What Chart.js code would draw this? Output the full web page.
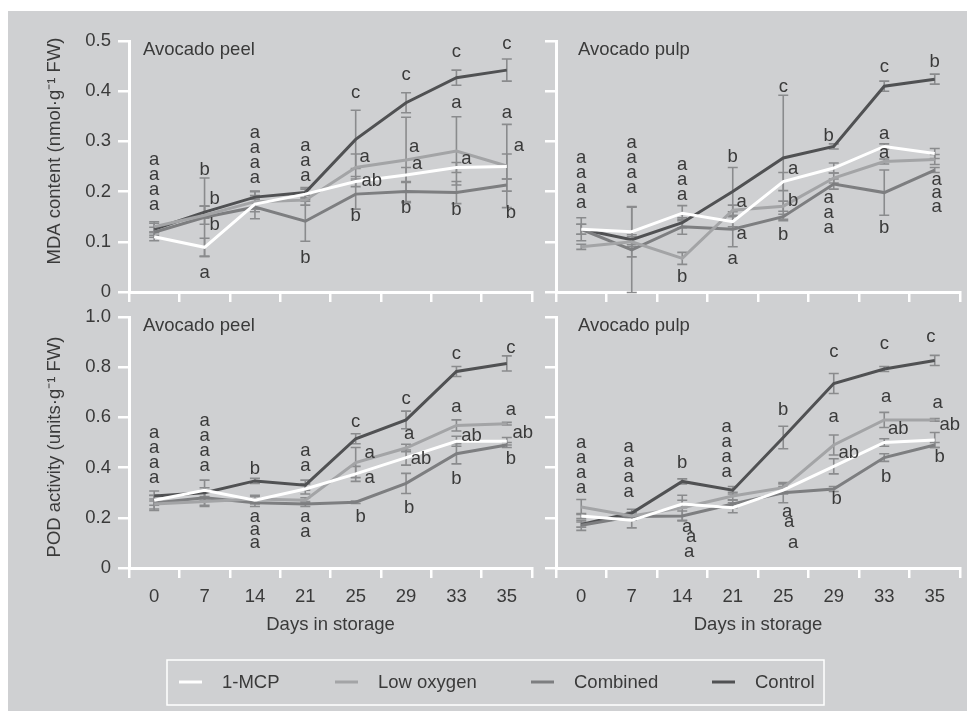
<!DOCTYPE html>
<html>
<head>
<meta charset="utf-8">
<script src="https://cdn.jsdelivr.net/npm/chart.js@4"></script>
<style>
  body { margin: 0; background: #ffffff; }
  #panel { position: absolute; left: 8px; top: 11px; width: 959px; height: 700px; background: #cfd0d2; }
  #panel canvas { position: absolute; left: 0; top: 0; }
</style>
</head>
<body>
<div id="panel">
  <canvas id="mdaPeel" width="959" height="700"></canvas>
  <canvas id="mdaPulp" width="959" height="700"></canvas>
  <canvas id="podPeel" width="959" height="700"></canvas>
  <canvas id="podPulp" width="959" height="700"></canvas>
</div>
<script>
// categories
var days = ['0', '7', '14', '21', '25', '29', '33', '35'];
var seriesNames = ['1-MCP', 'Low oxygen', 'Combined', 'Control'];

// MDA content, avocado peel
var mdaPeelMcp      = [0.110, 0.089, 0.175, 0.195, 0.220, 0.233, 0.248, 0.250];
var mdaPeelLowO2    = [0.130, 0.153, 0.180, 0.183, 0.248, 0.263, 0.281, 0.251];
var mdaPeelCombined = [0.119, 0.149, 0.169, 0.141, 0.195, 0.200, 0.198, 0.213];
var mdaPeelControl  = [0.125, 0.159, 0.189, 0.198, 0.304, 0.377, 0.427, 0.442];
var mdaPeelMcpErr      = [0.008, 0.018, 0.010, 0.010, 0.010, 0.015, 0.010, 0.025];
var mdaPeelLowO2Err    = [0.010, 0.018, 0.020, 0.010, 0.027, 0.085, 0.068, 0.083];
var mdaPeelCombinedErr = [0.010, 0.078, 0.023, 0.040, 0.030, 0.020, 0.022, 0.012];
var mdaPeelControlErr  = [0.012, 0.012, 0.012, 0.010, 0.058, 0.020, 0.015, 0.022];

// MDA content, avocado pulp
var mdaPulpMcp      = [0.125, 0.120, 0.157, 0.140, 0.220, 0.247, 0.290, 0.276];
var mdaPulpLowO2    = [0.090, 0.100, 0.067, 0.163, 0.171, 0.227, 0.260, 0.264];
var mdaPulpCombined = [0.125, 0.084, 0.130, 0.125, 0.150, 0.215, 0.198, 0.243];
var mdaPulpControl  = [0.125, 0.104, 0.138, 0.200, 0.267, 0.290, 0.410, 0.424];
var mdaPulpMcpErr      = [0.010, 0.050, 0.015, 0.010, 0.018, 0.010, 0.005, 0.010];
var mdaPulpLowO2Err    = [0.005, 0.010, 0.012, 0.010, 0.010, 0.010, 0.005, 0.010];
var mdaPulpCombinedErr = [0.023, 0.085, 0.015, 0.035, 0.005, 0.010, 0.045, 0.005];
var mdaPulpControlErr  = [0.010, 0.010, 0.010, 0.048, 0.125, 0.005, 0.010, 0.010];

// POD activity, avocado peel
var podPeelMcp      = [0.270, 0.310, 0.270, 0.315, 0.375, 0.440, 0.505, 0.505];
var podPeelLowO2    = [0.255, 0.265, 0.275, 0.270, 0.420, 0.478, 0.568, 0.575];
var podPeelCombined = [0.259, 0.280, 0.260, 0.255, 0.262, 0.337, 0.455, 0.490];
var podPeelControl  = [0.287, 0.300, 0.347, 0.330, 0.515, 0.590, 0.783, 0.815];
var podPeelMcpErr      = [0.020, 0.040, 0.015, 0.020, 0.030, 0.030, 0.020, 0.015];
var podPeelLowO2Err    = [0.020, 0.020, 0.015, 0.010, 0.060, 0.015, 0.022, 0.005];
var podPeelCombinedErr = [0.030, 0.030, 0.015, 0.010, 0.005, 0.040, 0.040, 0.010];
var podPeelControlErr  = [0.020, 0.020, 0.010, 0.020, 0.020, 0.035, 0.020, 0.030];

// POD activity, avocado pulp
var podPulpMcp      = [0.207, 0.190, 0.255, 0.240, 0.310, 0.405, 0.500, 0.510];
var podPulpLowO2    = [0.243, 0.207, 0.240, 0.287, 0.320, 0.490, 0.590, 0.590];
var podPulpCombined = [0.170, 0.205, 0.207, 0.255, 0.300, 0.315, 0.440, 0.490];
var podPulpControl  = [0.173, 0.219, 0.345, 0.310, 0.520, 0.735, 0.793, 0.827];
var podPulpMcpErr      = [0.010, 0.030, 0.015, 0.020, 0.015, 0.030, 0.015, 0.030];
var podPulpLowO2Err    = [0.030, 0.015, 0.050, 0.015, 0.015, 0.040, 0.030, 0.005];
var podPulpCombinedErr = [0.020, 0.015, 0.020, 0.015, 0.040, 0.010, 0.015, 0.010];
var podPulpControlErr  = [0.010, 0.015, 0.010, 0.015, 0.045, 0.040, 0.010, 0.020];

// significance letters: [day index, value, letter, x shift]
var mdaPeelLetters = [
  [0, 0.263, 'a', 0], [0, 0.233, 'a', 0], [0, 0.203, 'a', 0], [0, 0.173, 'a', 0],
  [1, 0.243, 'b', 0], [1, 0.185, 'b', 10], [1, 0.133, 'b', 10], [1, 0.038, 'a', 0],
  [2, 0.317, 'a', 0], [2, 0.287, 'a', 0], [2, 0.257, 'a', 0], [2, 0.227, 'a', 0],
  [3, 0.291, 'a', 0], [3, 0.261, 'a', 0], [3, 0.231, 'a', 0], [3, 0.068, 'b', 0],
  [4, 0.396, 'c', 0], [4, 0.269, 'a', 9], [4, 0.221, 'ab', 16], [4, 0.151, 'b', 0],
  [5, 0.432, 'c', 0], [5, 0.289, 'a', 8], [5, 0.255, 'a', 11], [5, 0.167, 'b', 0],
  [6, 0.478, 'c', 0], [6, 0.376, 'a', 0], [6, 0.264, 'a', 10], [6, 0.163, 'b', 0],
  [7, 0.494, 'c', 0], [7, 0.356, 'a', 0], [7, 0.291, 'a', 12], [7, 0.157, 'b', 4]
];
var mdaPulpLetters = [
  [0, 0.267, 'a', 0], [0, 0.237, 'a', 0], [0, 0.207, 'a', 0], [0, 0.177, 'a', 0],
  [1, 0.297, 'a', 0], [1, 0.267, 'a', 0], [1, 0.237, 'a', 0], [1, 0.207, 'a', 0],
  [2, 0.253, 'a', 0], [2, 0.223, 'a', 0], [2, 0.193, 'a', 0], [2, 0.030, 'b', 0],
  [3, 0.269, 'b', 0], [3, 0.179, 'a', 9], [3, 0.116, 'a', 9], [3, 0.066, 'a', 0],
  [4, 0.408, 'c', 0], [4, 0.245, 'a', 10], [4, 0.181, 'b', 10], [4, 0.114, 'b', 0],
  [5, 0.311, 'b', -5], [5, 0.187, 'a', -5], [5, 0.157, 'a', -5], [5, 0.127, 'a', -5],
  [6, 0.448, 'c', 0], [6, 0.315, 'a', 0], [6, 0.277, 'a', 0], [6, 0.127, 'b', 0],
  [7, 0.458, 'b', 0], [7, 0.223, 'a', 2], [7, 0.197, 'a', 2], [7, 0.169, 'a', 2]
];
var podPeelLetters = [
  [0, 0.538, 'a', 0], [0, 0.478, 'a', 0], [0, 0.418, 'a', 0], [0, 0.359, 'a', 0],
  [1, 0.586, 'a', 0], [1, 0.526, 'a', 0], [1, 0.466, 'a', 0], [1, 0.406, 'a', 0],
  [2, 0.394, 'b', 0], [2, 0.204, 'a', 0], [2, 0.151, 'a', 0], [2, 0.098, 'a', 0],
  [3, 0.467, 'a', 0], [3, 0.408, 'a', 0], [3, 0.204, 'a', 0], [3, 0.145, 'a', 0],
  [4, 0.583, 'c', 0], [4, 0.459, 'a', 14], [4, 0.357, 'a', 14], [4, 0.204, 'b', 5],
  [5, 0.672, 'c', 0], [5, 0.533, 'a', 3], [5, 0.433, 'ab', 15], [5, 0.238, 'b', 3],
  [6, 0.851, 'c', 0], [6, 0.640, 'a', 0], [6, 0.526, 'ab', 15], [6, 0.355, 'b', 0],
  [7, 0.875, 'c', 4], [7, 0.629, 'a', 4], [7, 0.537, 'ab', 16], [7, 0.433, 'b', 4]
];
var podPulpLetters = [
  [0, 0.499, 'a', 0], [0, 0.439, 'a', 0], [0, 0.380, 'a', 0], [0, 0.320, 'a', 0],
  [1, 0.483, 'a', -3], [1, 0.423, 'a', -3], [1, 0.364, 'a', -3], [1, 0.304, 'a', -3],
  [2, 0.420, 'b', 0], [2, 0.165, 'a', 5], [2, 0.122, 'a', 9], [2, 0.062, 'a', 7],
  [3, 0.563, 'a', -6], [3, 0.503, 'a', -6], [3, 0.444, 'a', -6], [3, 0.384, 'a', -6],
  [4, 0.629, 'b', 0], [4, 0.224, 'a', 4], [4, 0.185, 'a', 6], [4, 0.101, 'a', 10],
  [5, 0.862, 'c', 0], [5, 0.600, 'a', 0], [5, 0.459, 'ab', 15], [5, 0.274, 'b', 3],
  [6, 0.891, 'c', 0], [6, 0.683, 'a', 2], [6, 0.553, 'ab', 14], [6, 0.364, 'b', 2],
  [7, 0.919, 'c', -4], [7, 0.656, 'a', 3], [7, 0.570, 'ab', 15], [7, 0.444, 'b', 5]
];

var lineColors = ['#ffffff', '#a3a4a6', '#7d7e80', '#505153'];
var textColor = '#3a3a3a';
var fontFamily = '"Liberation Sans", Arial, sans-serif';
var fontSize = 18.5;

Chart.defaults.font.family = fontFamily;
Chart.defaults.font.size = fontSize;
Chart.defaults.color = textColor;

function makeDatasets(values, errors) {
    var sets = [];
    for (var i = 0; i < values.length; i++) {
        sets.push({
            label: seriesNames[i],
            data: values[i],
            errors: errors[i],
            borderColor: lineColors[i],
            backgroundColor: lineColors[i],
            borderWidth: 3,
            pointRadius: 0,
            tension: 0
        });
    }
    return sets;
}

// error bars, drawn under the lines
var errorBarPlugin = {
    id: 'errorBars',
    beforeDatasetsDraw: function (chart) {
        var ctx = chart.ctx;
        var xs = chart.scales.x, ys = chart.scales.y;
        ctx.save();
        ctx.strokeStyle = '#8a8b8d';
        ctx.lineWidth = 1.6;
        chart.data.datasets.forEach(function (ds) {
            ds.data.forEach(function (v, j) {
                var e = ds.errors[j];
                var x = xs.getPixelForValue(j);
                var y1 = ys.getPixelForValue(v + e);
                var y2 = ys.getPixelForValue(v - e);
                ctx.beginPath();
                ctx.moveTo(x, y1); ctx.lineTo(x, y2);
                ctx.moveTo(x - 5, y1); ctx.lineTo(x + 5, y1);
                ctx.moveTo(x - 5, y2); ctx.lineTo(x + 5, y2);
                ctx.stroke();
            });
        });
        ctx.restore();
    }
};

// letters, panel name, y title, legend
var textPlugin = {
    id: 'panelText',
    afterDraw: function (chart) {
        var opts = chart.options.plugins.panelText;
        var ctx = chart.ctx;
        var xs = chart.scales.x, ys = chart.scales.y;
        var area = chart.chartArea;
        ctx.save();
        ctx.fillStyle = textColor;
        ctx.font = fontSize + 'px ' + fontFamily;
        ctx.textAlign = 'center';
        ctx.textBaseline = 'alphabetic';
        opts.letters.forEach(function (l) {
            ctx.fillText(l[2], xs.getPixelForValue(l[0]) + l[3], ys.getPixelForValue(l[1]) + 5);
        });

        ctx.textAlign = 'left';
        ctx.fillText(opts.name, area.left + opts.nameShift, area.top + 14);

        if (opts.yTitle) {
            ctx.save();
            ctx.translate(47, opts.yTitleCenter);
            ctx.rotate(-Math.PI / 2);
            ctx.textAlign = 'center';
            ctx.textBaseline = 'middle';
            ctx.fillText(opts.yTitle, 0, 0);
            ctx.restore();
        }

        if (opts.legend) {
            ctx.strokeStyle = '#ffffff';
            ctx.lineWidth = 1.5;
            ctx.strokeRect(159, 649, 657, 45);
            var lineX = [171, 327, 523, 704];
            ctx.textBaseline = 'middle';
            ctx.textAlign = 'left';
            chart.data.datasets.forEach(function (ds, i) {
                ctx.strokeStyle = ds.borderColor;
                ctx.lineWidth = 3;
                ctx.beginPath();
                ctx.moveTo(lineX[i], 671);
                ctx.lineTo(lineX[i] + 23, 671);
                ctx.stroke();
                ctx.fillText(ds.label, lineX[i] + 43, 672);
            });
        }
        ctx.restore();
    }
};

function makeChart(id, values, errors, p) {
    var ctx = document.getElementById(id).getContext('2d');
    return new Chart(ctx, {
        type: 'line',
        data: { labels: days, datasets: makeDatasets(values, errors) },
        options: {
            responsive: false,
            animation: false,
            events: [],
            layout: { padding: p.padding },
            plugins: {
                legend: { display: false },
                tooltip: { enabled: false },
                panelText: p.text
            },
            scales: {
                x: {
                    type: 'category',
                    offset: true,
                    border: { color: '#ffffff', width: 3 },
                    grid: { offset: true, drawOnChartArea: false, drawTicks: true, tickLength: 10, color: '#ffffff', lineWidth: 2.5 },
                    ticks: {
                        padding: 8,
                        maxRotation: 0,
                        autoSkip: false,
                        callback: function (v, i) { return p.showX ? days[i] : ''; }
                    },
                    title: { display: p.showX, text: 'Days in storage', padding: { top: 2, bottom: 2 } },
                    afterFit: function (s) { s.height = p.showX ? 70 : 40; }
                },
                y: {
                    min: 0,
                    max: p.yMax,
                    border: { color: '#ffffff', width: 3 },
                    grid: { drawOnChartArea: false, drawTicks: true, tickLength: 11, color: '#ffffff', lineWidth: 2.5 },
                    ticks: {
                        stepSize: p.yStep,
                        maxTicksLimit: 20,
                        padding: 7,
                        callback: function (v) {
                            if (!p.showY) return '';
                            var n = v / p.yLabelStep;
                            if (Math.abs(n - Math.round(n)) > 1e-6) return '';
                            return Math.abs(v) < 1e-9 ? '0' : v.toFixed(1);
                        }
                    },
                    afterFit: function (s) { s.width = 60; }
                }
            }
        },
        plugins: [errorBarPlugin, textPlugin]
    });
}

makeChart('mdaPeel',
    [mdaPeelMcp, mdaPeelLowO2, mdaPeelCombined, mdaPeelControl],
    [mdaPeelMcpErr, mdaPeelLowO2Err, mdaPeelCombinedErr, mdaPeelControlErr],
    { padding: { left: 61, right: 435, top: 30, bottom: 379 }, showX: false, showY: true, yMax: 0.5, yStep: 0.05, yLabelStep: 0.1,
      text: { letters: mdaPeelLetters, name: 'Avocado peel', nameShift: 14, yTitle: 'MDA content (nmol·g⁻¹ FW)', yTitleCenter: 140 } });

makeChart('mdaPulp',
    [mdaPulpMcp, mdaPulpLowO2, mdaPulpCombined, mdaPulpControl],
    [mdaPulpMcpErr, mdaPulpLowO2Err, mdaPulpCombinedErr, mdaPulpControlErr],
    { padding: { left: 488, right: 7, top: 30, bottom: 379 }, showX: false, showY: false, yMax: 0.5, yStep: 0.05, yLabelStep: 0.1,
      text: { letters: mdaPulpLetters, name: 'Avocado pulp', nameShift: 22 } });

makeChart('podPeel',
    [podPeelMcp, podPeelLowO2, podPeelCombined, podPeelControl],
    [podPeelMcpErr, podPeelLowO2Err, podPeelCombinedErr, podPeelControlErr],
    { padding: { left: 61, right: 435, top: 306, bottom: 73 }, showX: true, showY: true, yMax: 1.0, yStep: 0.1, yLabelStep: 0.2,
      text: { letters: podPeelLetters, name: 'Avocado peel', nameShift: 14, yTitle: 'POD activity (units·g⁻¹ FW)', yTitleCenter: 436, legend: true } });

makeChart('podPulp',
    [podPulpMcp, podPulpLowO2, podPulpCombined, podPulpControl],
    [podPulpMcpErr, podPulpLowO2Err, podPulpCombinedErr, podPulpControlErr],
    { padding: { left: 488, right: 7, top: 306, bottom: 73 }, showX: true, showY: false, yMax: 1.0, yStep: 0.1, yLabelStep: 0.2,
      text: { letters: podPulpLetters, name: 'Avocado pulp', nameShift: 22 } });
</script>
</body>
</html>
